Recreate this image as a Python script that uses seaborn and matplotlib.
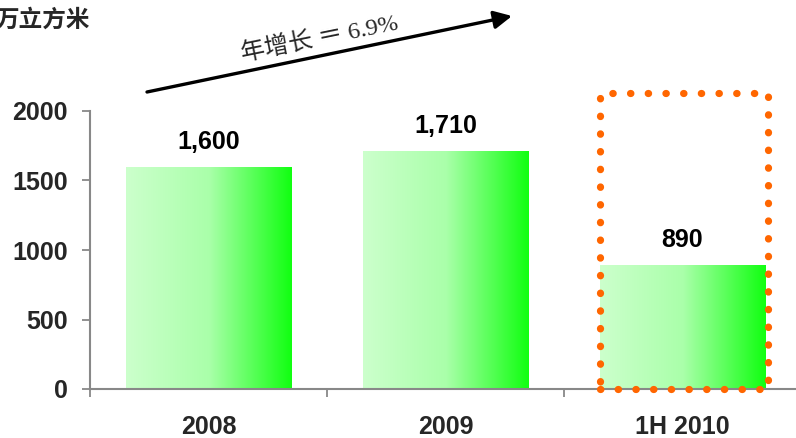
import numpy as np
import pandas as pd
import matplotlib
matplotlib.use('Agg')
import matplotlib.pyplot as plt
from matplotlib.colors import LinearSegmentedColormap
from matplotlib.patches import Rectangle
import seaborn as sns

# data
categories = ['2008', '2009', '1H 2010']
values = [1600, 1710, 890]
value_labels = ['1,600', '1,710', '890']
unit_label = '万立方米'
growth_label = '年增长 ＝ 6.9%'

sns.set_theme(style='white')
plt.rcParams['font.family'] = ['Liberation Sans', 'Noto Sans CJK SC', 'DejaVu Sans']

df = pd.DataFrame({'period': categories, 'volume': values})

fig = plt.figure(figsize=(7.96, 4.38), dpi=100)
ax = fig.add_axes([90 / 796, 1 - 389 / 438, 706 / 796, 278 / 438])

sns.barplot(data=df, x='period', y='volume', color='#22ff22', width=0.70,
            saturation=1, ax=ax)

# gradient fill: light green on the left to bright green on the right
grad = LinearSegmentedColormap.from_list('g', ['#ccffcc', '#aaffaa', '#11ff11'])
gimg = np.linspace(0, 1, 256).reshape(1, -1)
for p in ax.patches:
    x0, y0 = p.get_x(), p.get_y()
    w, h = p.get_width(), p.get_height()
    im = ax.imshow(gimg, cmap=grad, aspect='auto', extent=[x0, x0 + w, y0, y0 + h],
                   zorder=2)
    im.set_clip_path(p)
    p.set_facecolor('none')
    p.set_edgecolor('none')

for i, (v, lab) in enumerate(zip(values, value_labels)):
    ax.text(i, v + 130, lab, ha='center', va='baseline', fontsize=18,
            fontweight='bold', color='black')

ax.set_xlim(-0.5, 2.479)
ax.set_ylim(0, 2000)
ax.set_yticks([0, 500, 1000, 1500, 2000])
ax.set_xlabel('')
ax.set_ylabel('')

# category boundary ticks on x, labels in the middle
ax.set_xticks([0, 1, 2])
ax.set_xticklabels(categories, fontsize=18, fontweight='bold')
ax.set_xticks([-0.5, 0.5, 1.5], minor=True)
ax.tick_params(axis='x', which='major', length=0, pad=19)
ax.tick_params(axis='x', which='minor', length=6, width=1.3, color='#888888',
               direction='out', bottom=True)
ax.tick_params(axis='y', length=6, width=1.3, color='#888888', direction='out',
               left=True, pad=10)
for t in ax.get_yticklabels():
    t.set_fontsize(18)
    t.set_fontweight('bold')

for s in ['top', 'right']:
    ax.spines[s].set_visible(False)
for s in ['left', 'bottom']:
    ax.spines[s].set_color('#888888')
    ax.spines[s].set_linewidth(1.5)

# dotted highlight around the latest period
box = Rectangle((1.65, 0), 0.71, 2130, fill=False, edgecolor='#ff6600',
                linewidth=5.2, linestyle=(0, (0.05, 2.4)), capstyle='round',
                joinstyle='round', clip_on=False, zorder=4)
ax.add_patch(box)

# growth arrow
ax.annotate('', xy=(512, 438 - 16), xytext=(147, 438 - 92),
            xycoords='figure pixels', textcoords='figure pixels',
            arrowprops=dict(arrowstyle='-|>,head_length=0.9,head_width=0.45',
                            color='black', lw=2.4, shrinkA=0, shrinkB=0))
fig.text(320 / 796, 1 - 39 / 438, growth_label, rotation=11.5,
         rotation_mode='anchor', ha='center', va='center', fontsize=17.5,
         family=['Liberation Serif', 'Noto Sans CJK SC'])

fig.text(-4 / 796, 1 - 20 / 438, unit_label, ha='left', va='center',
         fontsize=17, fontweight='bold', family=['Noto Sans CJK SC'])

fig.savefig('out.png', dpi=100)
